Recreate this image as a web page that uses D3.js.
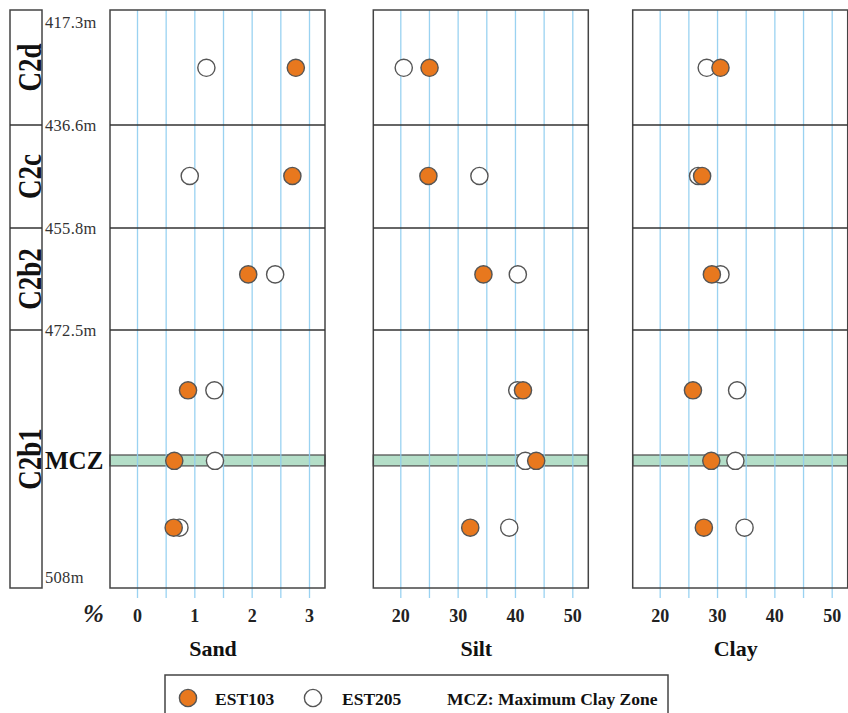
<!DOCTYPE html>
<html>
<head>
<meta charset="utf-8">
<script src="https://cdn.jsdelivr.net/npm/d3@7"></script>
<style>
  html, body { margin: 0; padding: 0; background: #fff; }
  svg { display: block; font-family: "Liberation Serif", "Times New Roman", serif; }
</style>
</head>
<body>
<svg id="chart" width="848" height="713"></svg>
<script>
// Stratigraphic units and their boundary depths (m)
const layers = ["C2d", "C2c", "C2b2", "C2b1"];
const boundaryDepths = [417.3, 436.6, 455.8, 472.5, 508];
const boundaryLabels = ["417.3m", "436.6m", "455.8m", "472.5m", "508m"];

// Sample levels (depth in m) and grain-size fractions (%)
const sampleLevels = ["C2d", "C2c", "C2b2", "C2b1 upper", "MCZ", "C2b1 lower"];
const sampleDepths = [427.0, 446.1, 463.4, 480.8, 490.5, 499.7];
const sandEST103 = [2.77, 2.71, 1.94, 0.89, 0.65, 0.64];
const sandEST205 = [1.21, 0.92, 2.41, 1.35, 1.36, 0.74];
const siltEST103 = [25.1, 24.9, 34.5, 41.4, 43.7, 32.2];
const siltEST205 = [20.6, 33.8, 40.5, 40.4, 41.8, 39.0];
const clayEST103 = [30.6, 27.4, 29.1, 25.8, 29.0, 27.7];
const clayEST205 = [28.2, 26.7, 30.6, 33.5, 33.2, 34.8];

// Maximum Clay Zone depth interval (m)
const mczDepths = [489.7, 491.2];

// Axis ticks
const sandTicks = [0, 0.5, 1, 1.5, 2, 2.5, 3];
const sandTickLabels = ["0", "", "1", "", "2", "", "3"];
const pctTicks = [20, 25, 30, 35, 40, 45, 50];
const pctTickLabels = ["20", "", "30", "", "40", "", "50"];

const panelNames = ["Sand", "Silt", "Clay"];

// ---- layout ----
const svg = d3.select("#chart");
const plotTop = 10, plotBottom = 588;
const colX0 = 10, colX1 = 42;
const panelLefts = [110, 373.3, 632.7];
const panelW = 215, padL = 27, padR = 16;
const layerWeights = [115, 103, 102, 258];
const gridColor = "#8fcdf0";
const frameColor = "#444";
const orange = "#e8781e";

// depth -> y : piecewise linear through the unit boundaries
const totalW = d3.sum(layerWeights);
const edgeY = [plotTop];
layerWeights.forEach(w => edgeY.push(edgeY[edgeY.length - 1] + w / totalW * (plotBottom - plotTop)));
const y = d3.scaleLinear().domain(boundaryDepths).range(edgeY);

// ---- strata column ----
svg.append("rect")
  .attr("x", colX0).attr("y", plotTop)
  .attr("width", colX1 - colX0).attr("height", plotBottom - plotTop)
  .attr("fill", "none").attr("stroke", frameColor).attr("stroke-width", 1.5);

boundaryDepths.slice(1, -1).forEach(d => {
  svg.append("line")
    .attr("x1", colX0).attr("x2", colX1)
    .attr("y1", y(d)).attr("y2", y(d))
    .attr("stroke", "#333").attr("stroke-width", 1.5);
});

layers.forEach((name, i) => {
  const cy = (y(boundaryDepths[i]) + y(boundaryDepths[i + 1])) / 2;
  svg.append("text")
    .attr("transform", `translate(40.5,${cy}) rotate(-90) scale(0.82,1)`)
    .attr("text-anchor", "middle")
    .attr("font-size", 33).attr("font-weight", "bold").attr("fill", "#111")
    .text(name);
});

// depth labels
boundaryLabels.forEach((lab, i) => {
  const yy = y(boundaryDepths[i]);
  let by = yy + 5.5;
  if (i === 0) by = yy + 18;
  if (i === boundaryLabels.length - 1) by = yy - 5;
  svg.append("text")
    .attr("x", 45).attr("y", by)
    .attr("font-size", 16.5).attr("letter-spacing", 0.3).attr("fill", "#333")
    .text(lab);
});

// MCZ label
const mczY = y(sampleDepths[4]);
svg.append("text")
  .attr("x", 45).attr("y", mczY + 8.5)
  .attr("font-size", 25).attr("font-weight", "bold").attr("fill", "#111")
  .text("MCZ");

// % label
svg.append("text")
  .attr("x", 83).attr("y", 622)
  .attr("font-size", 25).attr("font-weight", "bold").attr("font-style", "italic").attr("fill", "#222")
  .text("%");

// ---- panels ----
const panels = [
  { name: panelNames[0], domain: [0, 3], ticks: sandTicks, labels: sandTickLabels, a: sandEST103, b: sandEST205 },
  { name: panelNames[1], domain: [20, 50], ticks: pctTicks, labels: pctTickLabels, a: siltEST103, b: siltEST205 },
  { name: panelNames[2], domain: [20, 50], ticks: pctTicks, labels: pctTickLabels, a: clayEST103, b: clayEST205 }
];

panels.forEach((p, pi) => {
  const x0 = panelLefts[pi], x1 = x0 + panelW;
  const x = d3.scaleLinear().domain(p.domain).range([x0 + padL, x1 - padR]);
  const g = svg.append("g");

  // MCZ band
  g.append("rect")
    .attr("x", x0).attr("width", panelW)
    .attr("y", y(mczDepths[0])).attr("height", y(mczDepths[1]) - y(mczDepths[0]))
    .attr("fill", "#b4dec8").attr("stroke", "#555").attr("stroke-width", 1.3);

  // grid lines + tick labels through a bottom axis
  const axisY = plotBottom + 10;
  const axis = d3.axisBottom(x)
    .tickValues(p.ticks)
    .tickFormat((d, i) => p.labels[i])
    .tickSizeInner(-(axisY - plotTop))
    .tickSizeOuter(0)
    .tickPadding(11);
  const ag = g.append("g").attr("transform", `translate(0,${axisY})`).call(axis);
  ag.select(".domain").remove();
  ag.selectAll(".tick line").attr("stroke", gridColor).attr("stroke-width", 1.3).attr("opacity", 0.9);
  ag.selectAll(".tick text")
    .attr("font-family", "Liberation Serif, serif")
    .attr("font-size", 18).attr("font-weight", "bold").attr("fill", "#222");

  // panel frame
  g.append("rect")
    .attr("x", x0).attr("y", plotTop).attr("width", panelW).attr("height", plotBottom - plotTop)
    .attr("fill", "none").attr("stroke", frameColor).attr("stroke-width", 1.5);

  // unit boundaries
  boundaryDepths.slice(1, -1).forEach(d => {
    g.append("line")
      .attr("x1", x0).attr("x2", x1)
      .attr("y1", y(d)).attr("y2", y(d))
      .attr("stroke", "#333").attr("stroke-width", 1.5);
  });

  // EST205 (open) beneath EST103 (filled)
  g.selectAll("circle.b").data(p.b).join("circle")
    .attr("class", "b")
    .attr("cx", d => x(d)).attr("cy", (d, i) => y(sampleDepths[i]))
    .attr("r", 8.6)
    .attr("fill", "#fff").attr("stroke", "#555").attr("stroke-width", 1.4);
  g.selectAll("circle.a").data(p.a).join("circle")
    .attr("class", "a")
    .attr("cx", d => x(d)).attr("cy", (d, i) => y(sampleDepths[i]))
    .attr("r", 8.6)
    .attr("fill", orange).attr("stroke", "#555").attr("stroke-width", 1.4);

  // panel title
  const mid = (p.domain[0] + p.domain[1]) / 2;
  g.append("text")
    .attr("x", x(mid) - 10).attr("y", 656)
    .attr("text-anchor", "middle")
    .attr("font-size", 22).attr("font-weight", "bold").attr("fill", "#111")
    .text(p.name);
});

// ---- legend ----
const lg = svg.append("g");
lg.append("rect")
  .attr("x", 165).attr("y", 675).attr("width", 503).attr("height", 60)
  .attr("fill", "#fff").attr("stroke", frameColor).attr("stroke-width", 1.5);
lg.append("circle").attr("cx", 188).attr("cy", 698).attr("r", 8.6)
  .attr("fill", orange).attr("stroke", "#555").attr("stroke-width", 1.4);
lg.append("text").attr("x", 215).attr("y", 704.5)
  .attr("font-size", 17.5).attr("font-weight", "bold").attr("fill", "#111").text("EST103");
lg.append("circle").attr("cx", 313).attr("cy", 698).attr("r", 8.6)
  .attr("fill", "#fff").attr("stroke", "#555").attr("stroke-width", 1.4);
lg.append("text").attr("x", 342).attr("y", 704.5)
  .attr("font-size", 17.5).attr("font-weight", "bold").attr("fill", "#111").text("EST205");
lg.append("text").attr("x", 447).attr("y", 704.5)
  .attr("font-size", 17.5).attr("font-weight", "bold").attr("fill", "#111").text("MCZ: Maximum Clay Zone");
</script>
</body>
</html>
